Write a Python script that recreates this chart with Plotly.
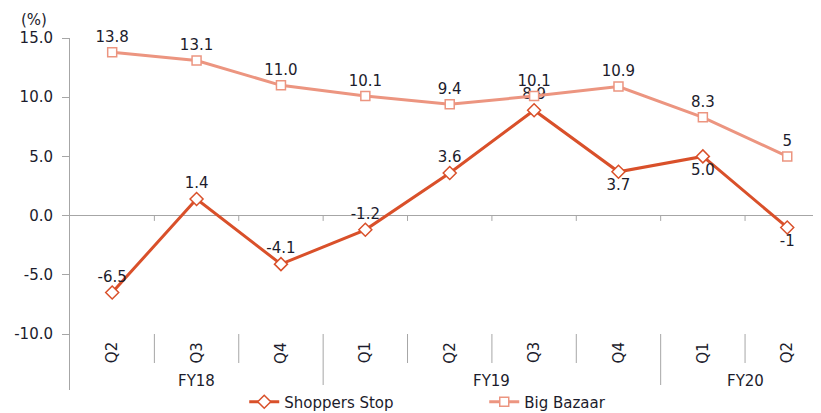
import plotly.graph_objects as go

years = ["FY18", "FY18", "FY18", "FY19", "FY19", "FY19", "FY19", "FY20", "FY20"]
quarters = ["Q2", "Q3", "Q4", "Q1", "Q2", "Q3", "Q4", "Q1", "Q2"]
shoppers_stop = [-6.5, 1.4, -4.1, -1.2, 3.6, 8.9, 3.7, 5.0, -1]
shoppers_labels = ["-6.5", "1.4", "-4.1", "-1.2", "3.6", "8.9", "3.7", "5.0", "-1"]
big_bazaar = [13.8, 13.1, 11.0, 10.1, 9.4, 10.1, 10.9, 8.3, 5]
big_bazaar_labels = ["13.8", "13.1", "11.0", "10.1", "9.4", "10.1", "10.9", "8.3", "5"]
y_ticks = [-10, -5, 0, 5, 10, 15]

FONT = "DejaVu Sans"
TEXT = "#1c1c2c"
GRID = "#a6a6a6"
SS_COL = "#d9502a"
BB_COL = "#ec9580"

x = list(range(len(quarters)))
ss_pos = ["top center"] * 6 + ["bottom center"] * 3

fig = go.Figure()
fig.add_trace(go.Scatter(
    x=x, y=shoppers_stop, name="Shoppers Stop", mode="lines+markers+text",
    line=dict(color=SS_COL, width=3),
    marker=dict(symbol="diamond", size=10, color="white",
                line=dict(color=SS_COL, width=1.5)),
    text=shoppers_labels, textposition=ss_pos,
    textfont=dict(family=FONT, size=15, color=TEXT),
    cliponaxis=False,
))
fig.add_trace(go.Scatter(
    x=x, y=big_bazaar, name="Big Bazaar", mode="lines+markers+text",
    line=dict(color=BB_COL, width=3),
    marker=dict(symbol="square", size=9, color="white",
                line=dict(color=BB_COL, width=1.5)),
    text=big_bazaar_labels, textposition="top center",
    textfont=dict(family=FONT, size=15, color=TEXT),
    cliponaxis=False,
))

# category axis: quarter labels, year labels and dividers
y_bottom = -14.73
shapes = []
for i in range(len(quarters) - 1):
    b = i + 0.5
    new_year = years[i] != years[i + 1]
    shapes.append(dict(type="line", xref="x", yref="y", x0=b, x1=b,
                       y0=-10, y1=y_bottom if new_year else -12.45,
                       line=dict(color=GRID, width=1)))
    shapes.append(dict(type="line", xref="x", yref="y", x0=b, x1=b,
                       y0=0, y1=-0.45, line=dict(color=GRID, width=1)))

annotations = []
for i, q in enumerate(quarters):
    annotations.append(dict(x=i, y=-11.6, xref="x", yref="y", text=q,
                            textangle=-90, showarrow=False,
                            font=dict(family=FONT, size=15, color=TEXT)))
groups = {}
for i, yr in enumerate(years):
    groups.setdefault(yr, []).append(i)
for yr, idx in groups.items():
    annotations.append(dict(x=(idx[0] + idx[-1]) / 2, y=-13.95, xref="x", yref="y",
                            text=yr, showarrow=False,
                            font=dict(family=FONT, size=15, color=TEXT)))
annotations.append(dict(x=-0.048, y=1.051, xref="paper", yref="paper", text="(%)",
                        xanchor="center", yanchor="middle", showarrow=False,
                        font=dict(family=FONT, size=15, color=TEXT)))

# page body has an 8px default margin, so the figure is sized to fit inside it
fig.update_layout(
    width=813, height=405,
    margin=dict(l=62, r=0, t=30, b=23, autoexpand=False),
    paper_bgcolor="white", plot_bgcolor="white",
    font=dict(family=FONT, size=15, color=TEXT),
    shapes=shapes, annotations=annotations,
    showlegend=True,
    legend=dict(orientation="h", x=0.232, xanchor="left", y=-0.034, yanchor="middle",
                font=dict(family=FONT, size=15, color=TEXT),
                entrywidth=195, entrywidthmode="pixels"),
)
fig.update_xaxes(range=[-0.5, 8.4], showticklabels=False, showgrid=False,
                 zeroline=False, showline=False, automargin=False)
fig.update_yaxes(range=[y_bottom, 15], tickvals=y_ticks,
                 ticktext=[f"{v:.1f}" for v in y_ticks],
                 showgrid=False, zeroline=True, zerolinecolor=GRID, zerolinewidth=1,
                 showline=True, linecolor=GRID, linewidth=1,
                 ticks="outside", ticklen=7, tickcolor=GRID,
                 ticklabelstandoff=6, automargin=False)

fig.write_html("out.html")
